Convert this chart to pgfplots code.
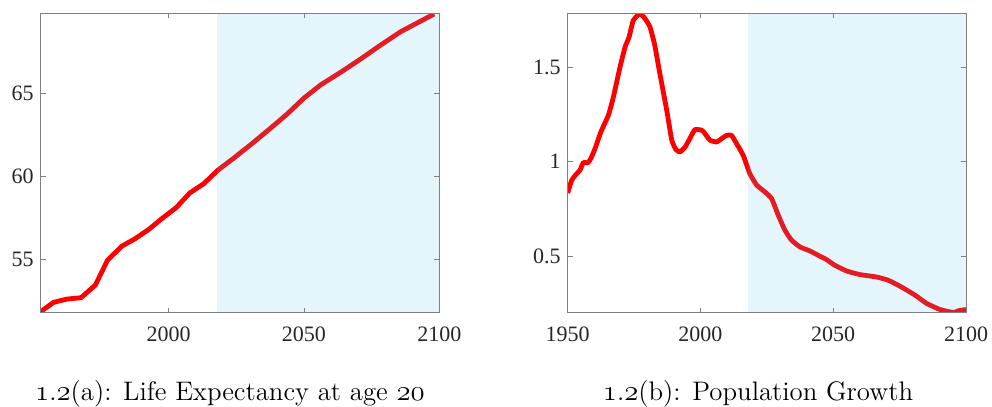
\documentclass[border=0pt]{standalone}
\usepackage{pgfplots}
\pgfplotsset{compat=1.18}
\usepackage{fontspec}
\newfontfamily\timesfont{Liberation Serif}
\newfontfamily\capfont{Latin Modern Roman}
\newcommand{\os}[1]{\ensuremath{\mathnormal{#1}}}
\definecolor{axgray}{RGB}{128,128,128}
\definecolor{txtgray}{RGB}{38,38,38}
\definecolor{shade}{rgb}{0.301,0.745,0.933}

\pgfplotsset{
  mystyle/.style={
    scale only axis, axis on top,
    axis line style={axgray, line width=0.5pt},
    major tick style={axgray, line width=0.5pt},
    major tick length=2.5pt,
    tick align=inside, tick pos=both,
    ticklabel style={font=\fontsize{11}{13}\timesfont, text=txtgray},
    xticklabel style={yshift=-3.5pt},
    /pgf/number format/assume math mode=true,
    /pgf/number format/1000 sep={},
    scaled ticks=false,
  },
  redline/.style={red, line width=2.4pt, line join=round},
  band/.style={fill=shade, fill opacity=0.15, draw=none},
}

\begin{document}
\begin{tikzpicture}
\useasboundingbox (0,0) rectangle (496pt,-203.5pt);

% life expectancy at age 20
\begin{axis}[mystyle, at={(20.35pt,-156.35pt)}, anchor=south west,
  width=199.3pt, height=149.7pt,
  xmin=1952.7, xmax=2100, ymin=51.8, ymax=69.8,
  xtick={2000,2050,2100}, ytick={55,60,65}]
\addplot[redline] coordinates {
(1952.7,51.86) (1957.4,52.42) (1962.4,52.62) (1967.6,52.70) (1972.9,53.46)
(1977.4,54.96) (1982.7,55.80) (1987.7,56.26) (1992.6,56.80) (1997.5,57.46)
(2002.8,58.12) (2007.8,59.00) (2013.0,59.56) (2018.1,60.36) (2024.1,61.10)
(2031.5,62.06) (2037.7,62.90) (2043.9,63.76) (2050.1,64.72) (2056.2,65.50)
(2063.6,66.26) (2071.0,67.06) (2078.4,67.90) (2085.8,68.70) (2098.1,69.76)};
\addplot[band] coordinates {(2018,51.8) (2100,51.8) (2100,69.8) (2018,69.8)} -- cycle;
\end{axis}

% population growth
\begin{axis}[mystyle, at={(283.85pt,-156.35pt)}, anchor=south west,
  width=199.15pt, height=149.7pt,
  xmin=1950, xmax=2100, ymin=0.2, ymax=1.785,
  xtick={1950,2000,2050,2100}, ytick={0.5,1,1.5}]
\addplot[redline, smooth, tension=0.3] coordinates {
(1950.0,0.834) (1951.5,0.901) (1953.4,0.936) (1954.6,0.954) (1955.9,0.995)
(1957.5,0.993) (1958.7,1.016) (1960.3,1.069) (1962.5,1.157) (1965.3,1.245)
(1967.2,1.342) (1969.7,1.500) (1971.6,1.606) (1973.1,1.659) (1974.7,1.747)
(1977.2,1.783) (1979.1,1.757) (1981.0,1.712) (1982.8,1.615) (1984.7,1.466)
(1987.3,1.271) (1989.2,1.113) (1990.8,1.063) (1992.3,1.051) (1994.2,1.077)
(1996.0,1.122) (1997.9,1.169) (2000.5,1.166) (2001.7,1.148) (2003.6,1.113)
(2006.1,1.104) (2008.0,1.122) (2009.9,1.139) (2011.7,1.139) (2013.6,1.095)
(2016.1,1.033) (2018.6,0.936) (2021.2,0.875) (2024.3,0.839) (2026.8,0.804)
(2029.3,0.716) (2031.8,0.637) (2034.3,0.584) (2037.5,0.548) (2041.2,0.527)
(2045.0,0.499) (2047.5,0.481) (2050.6,0.451) (2055.0,0.421) (2060.0,0.402)
(2066.3,0.389) (2070.7,0.372) (2075.7,0.336) (2080.8,0.293) (2085.2,0.249)
(2090.2,0.217) (2095.2,0.201) (2097.1,0.210) (2100.0,0.217)};
\addplot[band] coordinates {(2018,0.2) (2100,0.2) (2100,1.785) (2018,1.785)} -- cycle;
\end{axis}

\node[anchor=base, font=\fontsize{13.4}{15}\capfont] at (115pt,-200pt)
  {\os{1}.\os{2}(a): Life Expectancy at age \os{20}};
\node[anchor=base, font=\fontsize{13.4}{15}\capfont] at (379pt,-200pt)
  {\os{1}.\os{2}(b): Population Growth};
\end{tikzpicture}
\end{document}
